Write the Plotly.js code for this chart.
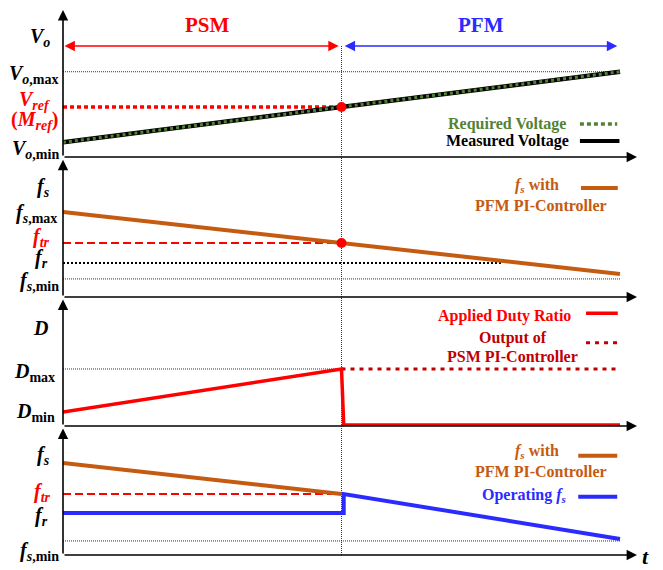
<!DOCTYPE html>
<html>
<head>
<meta charset="utf-8">
<script src="https://cdn.plot.ly/plotly-3.0.1.min.js"></script>
<style>
  html, body { margin: 0; padding: 0; background: #fff; }
  #chart { width: 663px; height: 570px; }
</style>
</head>
<body>
<div id="chart"></div>
<script>
// ---- time base (arbitrary units) ----
const t = [0, 5, 10];
const T_TR = 5;          // PSM -> PFM transition
const T_END = 10;
const T_AXIS_END = 10.305;

// ---- panel 1: output voltage ----
const voMeasured = [1.0, 3.4, 5.8];
const voRequired = [1.0, 3.4, 5.8];
const VO_MIN = 1.0;
const VO_REF = 3.4;
const VO_MAX = 5.8;

// ---- panel 2: switching frequency from the PFM PI-controller ----
const fsPfm = [6.07, 3.86, 1.64];
const FS_MAX = 6.07;
const FS_TR = 3.86;
const FS_R = 2.43;
const FS_MIN = 1.29;
const frLineT = [0, 7.88];

// ---- panel 3: duty ratio ----
const dutyT = [0, 5, 5.04, 10];
const dutyApplied = [1.09, 4.42, 0.08, 0.08];
const psmOutT = [5, 10];
const psmOut = [4.42, 4.42];
const D_MAX = 4.42;
const D_MIN = 1.09;

// ---- panel 4: operating switching frequency ----
const fsPfm4T = [0, 5];
const fsPfm4 = [7.13, 4.73];
const opT = [0, 5.04, 5.04, 10];
const opFs = [3.26, 3.26, 4.73, 1.24];
const FS4_TR = 4.73;
const FS4_R = 3.26;
const FS4_MIN = 1.09;

// ---- colours ----
const RED = '#ff0000';
const DARKRED = '#c00000';
const ORANGE = '#c55a11';
const GREEN = '#548235';
const BLUE = '#2b2bff';
const FONT = 'Liberation Serif, Times New Roman, serif';

function line(x, y, yaxis, color, width, dash) {
  return { x, y, yaxis, xaxis: 'x', mode: 'lines', hoverinfo: 'skip',
           line: { color, width, dash: dash || 'solid' } };
}
function level(x0, x1, v, yaxis, color, width, dash) {
  return line([x0, x1], [v, v], yaxis, color, width, dash);
}
function dot(x, y, yaxis) {
  return { x: [x], y: [y], yaxis, xaxis: 'x', mode: 'markers', hoverinfo: 'skip',
           marker: { color: RED, size: 10 } };
}

const THIN = '1px,1px';
const traces = [
  // panel 1
  level(0, T_END, VO_MAX, 'y', '#333', 1, THIN),
  level(0, T_TR, VO_REF, 'y', RED, 3.5, '4px,3px'),
  line(t, voMeasured, 'y', '#000', 4.5),
  line(t, voRequired, 'y', GREEN, 3, '3px,3px'),
  dot(T_TR, VO_REF, 'y'),
  // panel 2
  level(0, T_END, FS_MIN, 'y2', '#333', 1, THIN),
  level(frLineT[0], frLineT[1], FS_R, 'y2', '#000', 2, '2px,2px'),
  level(0, T_TR, FS_TR, 'y2', RED, 2, '8px,4px'),
  line(t, fsPfm, 'y2', ORANGE, 4),
  dot(T_TR, FS_TR, 'y2'),
  // panel 3
  level(0, T_TR, D_MAX, 'y3', '#333', 1, THIN),
  line(psmOutT, psmOut, 'y3', DARKRED, 3, '4px,5px'),
  line(dutyT, dutyApplied, 'y3', RED, 3.5),
  // panel 4
  level(0, T_END, FS4_MIN, 'y4', '#333', 1, THIN),
  level(0, T_TR, FS4_TR, 'y4', RED, 2, '8px,4px'),
  line(fsPfm4T, fsPfm4, 'y4', ORANGE, 4),
  line(opT, opFs, 'y4', BLUE, 4)
];

// axis arrows
function arrow(yref, x, y, ax, ay, color, both) {
  return { xref: 'x', yref, axref: 'x', ayref: yref, x, y, ax, ay, text: '',
           showarrow: true, arrowhead: 2, arrowsize: 1.3, arrowwidth: 1.6,
           arrowcolor: color || '#000', standoff: 0,
           arrowside: both ? 'end+start' : 'end', startarrowhead: 2, startarrowsize: 1.3 };
}
// left-side axis labels
function ylab(yref, y, text, rightPx, yshift, color) {
  return { xref: 'paper', x: 0, xanchor: 'right', xshift: rightPx - 63,
           yref, y, yanchor: 'middle', yshift, text, showarrow: false,
           font: { family: FONT, size: 20, color: color || '#000' } };
}
// legend-style texts
function ltext(yref, x, y, text, color, xanchor) {
  return { xref: 'x', x, xanchor: xanchor || 'right', yref, y, yanchor: 'middle',
           text: '<b>' + text + '</b>', showarrow: false,
           font: { family: FONT, size: 16, color } };
}

const fS = '<b><i>f</i></b><sub><b><i>s</i></b></sub>';
const annotations = [
  // axes
  arrow('y', 0, 10, 0, 0), arrow('y', T_AXIS_END, 0, 0, 0),
  arrow('y2', 0, 9.8, 0, 0), arrow('y2', T_AXIS_END, 0, 0, 0),
  arrow('y3', 0, 9.8, 0, 0), arrow('y3', T_AXIS_END, 0, 0, 0),
  arrow('y4', 0, 9.8, 0, 0), arrow('y4', T_AXIS_END, 0, 0, 0),
  // mode spans
  arrow('y', 4.95, 7.55, 0, 7.55, RED, true),
  arrow('y', 9.95, 7.55, 5.03, 7.55, BLUE, true),
  { xref: 'x', x: 2.6, yref: 'y', y: 9.0, text: '<b>PSM</b>', showarrow: false,
    font: { family: FONT, size: 21, color: RED } },
  { xref: 'x', x: 7.5, yref: 'y', y: 9.0, text: '<b>PFM</b>', showarrow: false,
    font: { family: FONT, size: 21, color: BLUE } },
  { xref: 'paper', x: 1, xanchor: 'left', xshift: 3, yref: 'y4', y: 0, yshift: -2,
    text: '<b><i>t</i></b>', showarrow: false, font: { family: FONT, size: 22, color: '#000' } },

  // panel 1 labels
  ylab('y', 8.16, '<b><i>V</i></b><sub><b><i>o</i></b></sub>', 52, 0),
  ylab('y', VO_MAX, '<b><i>V</i></b><sub><b><i>o</i>,max</b></sub>', 61, -3),
  ylab('y', VO_REF, '<b><i>V</i></b><sub><b><i>ref</i></b></sub>', 52, 7, RED),
  ylab('y', VO_REF, '<b>(<i>M</i></b><sub><b><i>ref</i></b></sub><b>)</b>', 60, -13, RED),
  ylab('y', VO_MIN, '<b><i>V</i></b><sub><b><i>o</i>,min</b></sub>', 61, -7),
  ltext('y', 9.07, 2.24, 'Required Voltage', GREEN),
  ltext('y', 9.12, 1.09, 'Measured Voltage', '#000'),

  // panel 2 labels
  ylab('y2', 7.8, fS, 52, 0),
  ylab('y2', FS_MAX, '<b><i>f</i></b><sub><b><i>s</i>,max</b></sub>', 59, -1),
  ylab('y2', FS_TR, '<b><i>f</i></b><sub><b><i>tr</i></b></sub>', 52, 5, RED),
  ylab('y2', FS_R, '<b><i>f</i></b><sub><b><i>r</i></b></sub>', 50, 4),
  ylab('y2', FS_MIN, '<b><i>f</i></b><sub><b><i>s</i>,min</b></sub>', 61, -3),
  ltext('y2', 8.94, 7.93, '<i>f</i><sub><i>s</i></sub> with', ORANGE),
  ltext('y2', 8.58, 6.57, 'PFM PI-Controller', ORANGE, 'center'),

  // panel 3 labels
  ylab('y3', 7.6, '<b><i>D</i></b>', 50, 0),
  ylab('y3', D_MAX, '<b><i>D</i></b><sub><b>max</b></sub>', 57, -4),
  ylab('y3', D_MIN, '<b><i>D</i></b><sub><b>min</b></sub>', 57, -1),
  ltext('y3', 9.15, 8.55, 'Applied Duty Ratio', RED),
  ltext('y3', 8.07, 6.85, 'Output of', DARKRED, 'center'),
  ltext('y3', 8.07, 5.37, 'PSM PI-Controller', DARKRED, 'center'),

  // panel 4 labels
  ylab('y4', 7.75, fS, 52, 0),
  ylab('y4', FS4_TR, '<b><i>f</i></b><sub><b><i>tr</i></b></sub>', 53, 1, RED),
  ylab('y4', FS4_R, '<b><i>f</i></b><sub><b><i>r</i></b></sub>', 50, -4),
  ylab('y4', FS4_MIN, '<b><i>f</i></b><sub><b><i>s</i>,min</b></sub>', 61, -11),
  ltext('y4', 8.94, 8.0, '<i>f</i><sub><i>s</i></sub> with', ORANGE),
  ltext('y4', 8.58, 6.46, 'PFM PI-Controller', ORANGE, 'center'),
  ltext('y4', 9.08, 4.6, 'Operating <i>f</i><sub><i>s</i></sub>', BLUE)
];

// legend swatches and the transition marker line
function swatch(yref, x0, x1, y, color, width, dash) {
  return { type: 'line', xref: 'x', yref, x0, x1, y0: y, y1: y,
           line: { color, width, dash: dash || 'solid' } };
}
const shapes = [
  { type: 'line', xref: 'x', yref: 'paper', x0: T_TR, x1: T_TR, y0: 0, y1: 0.934,
    layer: 'below', line: { color: '#333', width: 1, dash: THIN } },
  swatch('y', 9.28, 9.95, 2.24, GREEN, 3.5, '4px,3px'),
  swatch('y', 9.28, 9.99, 1.09, '#000', 4),
  swatch('y2', 9.30, 9.96, 7.79, ORANGE, 4),
  swatch('y3', 9.39, 9.96, 8.74, RED, 3.5),
  swatch('y3', 9.39, 9.99, 6.46, DARKRED, 3, '4px,5px'),
  swatch('y4', 9.25, 9.95, 7.7, ORANGE, 4),
  swatch('y4', 9.25, 9.95, 4.52, BLUE, 4)
];

const yBase = { range: [0, 10], visible: false, fixedrange: true, anchor: 'x' };
const layout = {
  width: 663, height: 570,
  margin: { l: 63, r: 26, t: 10, b: 15 },
  paper_bgcolor: '#fff', plot_bgcolor: '#fff',
  showlegend: false,
  xaxis: { range: [0, T_AXIS_END], visible: false, fixedrange: true, anchor: 'y4' },
  yaxis:  Object.assign({}, yBase, { domain: [0.7303, 1] }),
  yaxis2: Object.assign({}, yBase, { domain: [0.4734, 0.7303] }),
  yaxis3: Object.assign({}, yBase, { domain: [0.2367, 0.4734] }),
  yaxis4: Object.assign({}, yBase, { domain: [0, 0.2367] }),
  annotations, shapes
};

Plotly.newPlot('chart', traces, layout, { displayModeBar: false, staticPlot: true });
</script>
</body>
</html>
